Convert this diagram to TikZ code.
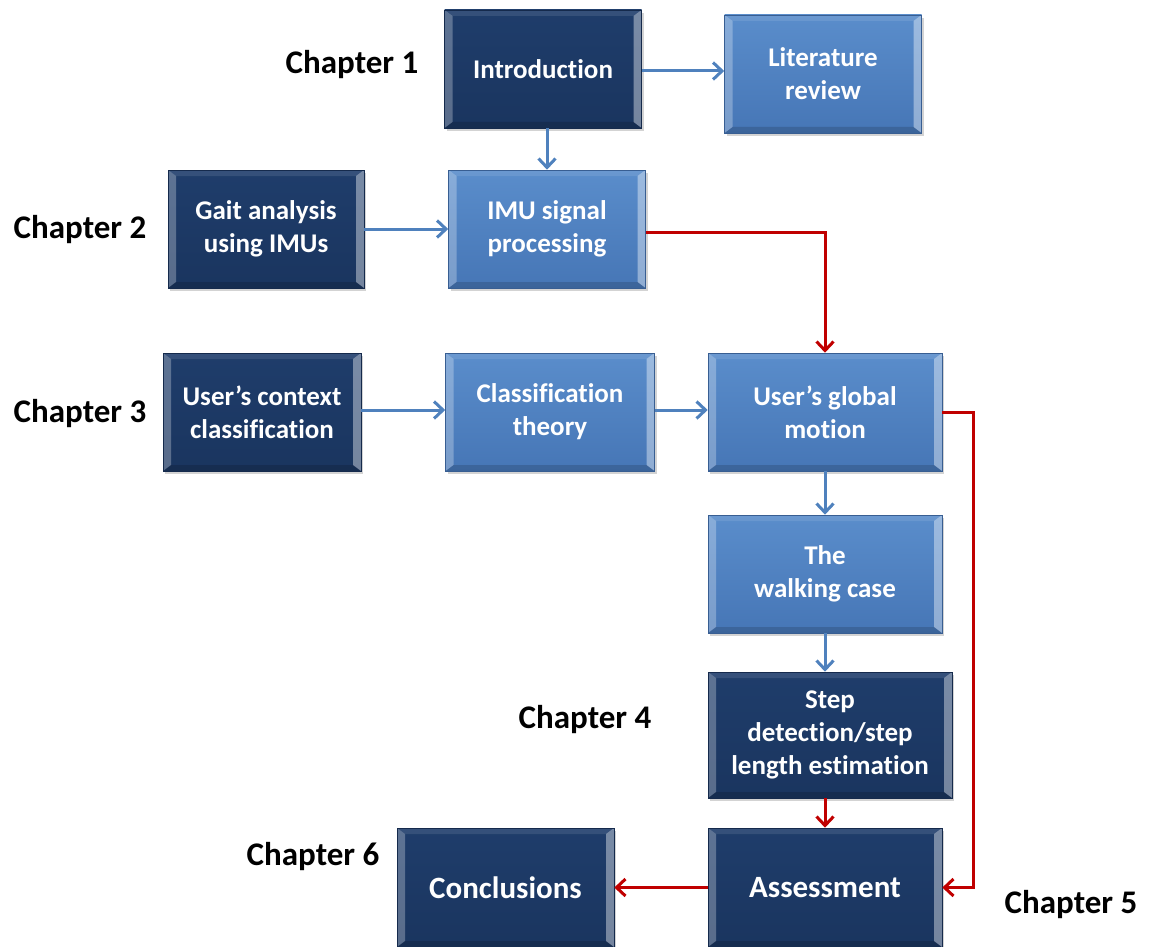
\documentclass[tikz,border=0pt]{standalone}
\usepackage{fontspec}
\setmainfont{Carlito}[Ligatures=NoCommon]
\usetikzlibrary{arrows.meta,calc,shadows}

\definecolor{navy}{HTML}{1F3D6B}
\definecolor{navydark}{HTML}{1A355F}
\definecolor{sky}{HTML}{5A8DCB}
\definecolor{skydark}{HTML}{4676B6}
\definecolor{linkblue}{HTML}{4F81BD}
\definecolor{linkred}{HTML}{C00000}

\tikzset{
  bevel/.style={path picture={
    \coordinate (bvnw) at (path picture bounding box.north west);
    \coordinate (bvne) at (path picture bounding box.north east);
    \coordinate (bvsw) at (path picture bounding box.south west);
    \coordinate (bvse) at (path picture bounding box.south east);
    \fill[white,opacity=0.10] (bvnw) -- (bvne) -- ($(bvne)+(-8pt,-6pt)$) -- ($(bvnw)+(8pt,-6pt)$) -- cycle;
    \fill[white,opacity=0.28] (bvnw) -- ($(bvnw)+(8pt,-6pt)$) -- ($(bvsw)+(8pt,6pt)$) -- (bvsw) -- cycle;
    \fill[white,opacity=0.40] (bvne) -- ($(bvne)+(-8pt,-6pt)$) -- ($(bvse)+(-8pt,6pt)$) -- (bvse) -- cycle;
    \fill[black,opacity=0.15] (bvsw) -- ($(bvsw)+(8pt,6pt)$) -- ($(bvse)+(-8pt,6pt)$) -- (bvse) -- cycle;
  }},
  box/.style={rectangle, bevel, align=center, text=white,
    font=\fontsize{27}{33}\selectfont\bfseries, inner sep=0pt,
    minimum height=118pt,
    drop shadow={shadow xshift=2pt, shadow yshift=-3pt, opacity=0.35}},
  darkbox/.style={box, top color=navy, bottom color=navydark, draw=navydark!80!black, line width=0.6pt},
  lightbox/.style={box, top color=sky, bottom color=skydark, draw=skydark!80!black, line width=0.6pt},
  bigtext/.style={font=\fontsize{31}{37}\selectfont\bfseries},
  chapter/.style={font=\fontsize{33}{38}\selectfont\bfseries, text=black, inner sep=0pt},
  bluelink/.style={draw=linkblue, line width=3pt, -{Straight Barb[length=9pt,width=17pt,line width=3pt]}},
  redlink/.style={draw=linkred, line width=3pt, -{Straight Barb[length=9pt,width=17pt,line width=3pt]}}
}

\begin{document}
\begin{tikzpicture}[x=1pt,y=-1pt]
\useasboundingbox (0,0) rectangle (1153,947);

% boxes
\node[darkbox, minimum width=197pt] (intro) at (543,69) {Introduction};
\node[lightbox, minimum width=197pt] (lit) at (823,74) {Literature\\review};
\node[darkbox, minimum width=196pt] (gait) at (266,229) {Gait analysis\\using IMUs};
\node[lightbox, minimum width=197pt] (imu) at (547,229) {IMU signal\\processing};
\node[darkbox, minimum width=198pt] (ctx) at (262,412) {User’s context\\classification};
\node[lightbox, minimum width=209pt] (cls) at (550,412) {Classification\\theory};
\node[lightbox, minimum width=234pt] (glob) at (825,412) {User’s global\\motion};
\node[lightbox, minimum width=234pt] (walk) at (825,574) {The\\walking case};
\node[darkbox, minimum width=244pt, minimum height=126pt] (step) at (830,735) {Step\\detection/step\\length estimation};
\node[darkbox, bigtext, minimum width=234pt, minimum height=119pt] (assess) at (825,887.5) {Assessment};
\node[darkbox, bigtext, minimum width=217pt, minimum height=119pt] (concl) at (505.5,887.5) {Conclusions};

% chapter labels
\node[chapter] (ch1) at (352,65) {Chapter 1};
\node[chapter] (ch2) at (80,230) {Chapter 2};
\node[chapter] (ch3) at (80,414) {Chapter 3};
\node[chapter] (ch4) at (585,720) {Chapter 4};
\node[chapter] (ch6) at (313,857) {Chapter 6};
\node[chapter] (ch5) at (1071,905) {Chapter 5};

% connectors
\draw[bluelink] ([yshift=-2pt]intro.east) -- ([yshift=-2pt]intro.east -| lit.west);
\draw[bluelink] (imu.north |- intro.south) -- (imu.north);
\draw[bluelink] (gait.east) -- (imu.west);
\draw[redlink] ([yshift=-3pt]imu.east) -| (glob.north);
\draw[bluelink] ([yshift=2pt]ctx.east) -- ([yshift=2pt]cls.west);
\draw[bluelink] ([yshift=2pt]cls.east) -- ([yshift=2pt]glob.west);
\draw[bluelink] (glob.south) -- (walk.north);
\draw[bluelink] (walk.south) -- (walk.south |- step.north);
\draw[redlink] (walk.south |- step.south) -- (assess.north);
\coordinate (loop) at (973,412);
\draw[redlink] (glob.east) -- (loop) |- (assess.east);
\draw[redlink] (assess.west) -- (concl.east);
\end{tikzpicture}
\end{document}
